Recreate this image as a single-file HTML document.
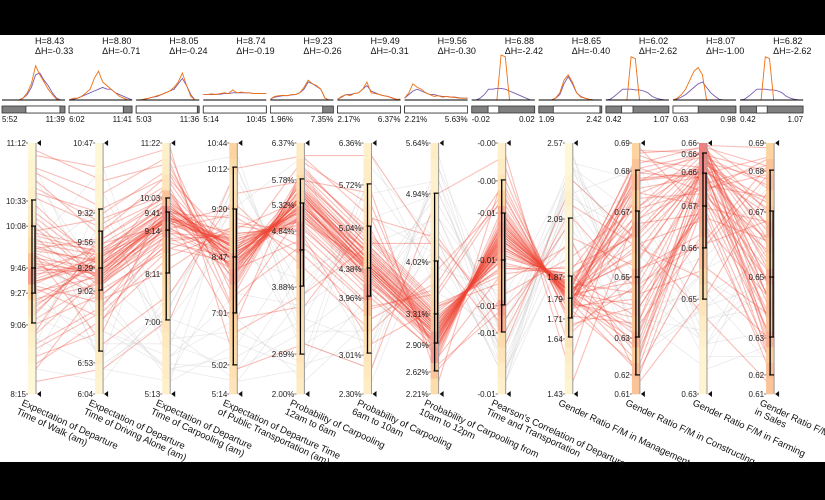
<!DOCTYPE html>
<html><head><meta charset="utf-8"><style>
html,body{margin:0;padding:0;background:#fff;}
svg{display:block;font-family:"Liberation Sans",sans-serif;}
</style></head><body>
<svg id="chart" width="825" height="500" viewBox="0 0 825 500" xmlns="http://www.w3.org/2000/svg">
<rect x="0" y="0" width="825" height="35" fill="#000"/>
<rect x="0" y="462" width="825" height="38" fill="#000"/>
<g id="gray-lines"></g>
<g id="red-lines"></g>
<g id="axes"></g>
<g id="hists"></g>
</svg>
<script>
const axisTitles=[["Expectation of Departure","Time of Walk (am)"],["Expectation of Departure","Time of Driving Alone (am)"],["Expectation of Departure","Time of Carpooling (am)"],["Expectation of Departure Time","of Public Transportation (am)"],["Probability of Carpooling","12am to 6am"],["Probability of Carpooling","6am to 10am"],["Probability of Carpooling from","10am to 12pm"],["Pearson's Correlation of Departure","Time and Transportation"],["Gender Ratio F/M in Management"],["Gender Ratio F/M in Constructing"],["Gender Ratio F/M in Farming"],["Gender Ratio F/M","in Sales"]];
const hLabels=["H=8.43","H=8.80","H=8.05","H=8.74","H=9.23","H=9.49","H=9.56","H=6.88","H=8.65","H=6.02","H=8.07","H=6.82"];
const dhLabels=["ΔH=-0.33","ΔH=-0.71","ΔH=-0.24","ΔH=-0.19","ΔH=-0.26","ΔH=-0.31","ΔH=-0.30","ΔH=-2.42","ΔH=-0.40","ΔH=-2.62","ΔH=-1.00","ΔH=-2.62"];
const rangeMin=["5:52","6:02","5:03","5:14","1.96%","2.17%","2.21%","-0.02","1.09","0.42","0.63","0.42"];
const rangeMax=["11:39","11:41","11:36","10:45","7.35%","6.37%","5.63%","0.02","2.42","1.07","0.98","1.07"];
const brushLo=[0.38,0,0,0,0,0,0,0.26,0.23,0.25,0,0.26];
const brushHi=[0.92,0.86,0.97,1,0.83,1,1,0.43,0.97,0.43,0.4,0.43];
const tickLabels=[["8:15","9:06","9:27","9:46","10:08","10:33","11:12"],["6:04","6:53","9:02","9:29","9:56","9:32","10:47"],["5:13","7:00","8:11","9:14","9:41","10:03","11:22"],["5:14","5:02","7:01","8:47","9:20","10:12","10:44"],["2.00%","2.69%","3.88%","4.84%","5.32%","5.78%","6.37%"],["2.30%","3.01%","3.96%","4.38%","5.04%","5.72%","6.36%"],["2.21%","2.62%","2.90%","3.31%","4.02%","4.94%","5.64%"],["-0.01","-0.01","-0.01","-0.01","-0.01","-0.00","-0.00"],["1.43","1.64","1.71","1.79","1.87","2.09","2.57"],["0.61","0.62","0.63","0.65","0.67","0.68","0.69"],["0.63","0.65","0.66","0.67","0.66","0.66","0.66"],["0.61","0.62","0.63","0.65","0.67","0.68","0.69"]];
const tickValues=[[0,.275,.402,.502,.669,.769,1],[0,.124,.41,.502,.606,.721,1],[0,.287,.478,.649,.721,.781,1],[0,.116,.323,.546,.737,.896,1],[0,.159,.426,.649,.753,.853,1],[0,.155,.382,.498,.661,.833,1],[0,.088,.195,.319,.526,.797,1],[0,.243,.351,.534,.721,.849,1],[0,.219,.299,.378,.466,.697,1],[0,.076,.223,.466,.725,.888,1],[0,.378,.582,.749,.884,.956,1],[0,.076,.223,.466,.725,.888,1]];
const boxWLo=[.283,.171,.295,.116,.159,.163,.092,.247,.227,.076,.378,.076];
const boxQ1=[.402,.414,.482,.323,.43,.39,.203,.355,.303,.227,.582,.227];
const boxMed=[.502,.502,.653,.546,.574,.502,.319,.534,.382,.466,.749,.466];
const boxQ3=[.669,.649,.725,.737,.761,.669,.53,.721,.47,.729,.88,.729];
const boxWHi=[.773,.737,.781,.904,.857,.837,.80,.853,.701,.892,.96,.892];
const density=[
[.05,.05,.1,.15,.2,.3,.5,.8,.6,.4,.3,.2,.15,.1,.1,.05],
[.1,.15,.2,.2,.25,.35,.6,.75,.5,.3,.2,.15,.1,.1,.05,.05],
[.15,.2,.2,.25,.3,.35,.4,.45,.5,.6,.75,.9,.6,.3,.2,.15],
[.3,.35,.4,.45,.5,.55,.6,.75,.65,.5,.45,.4,.35,.3,.4,.5],
[.2,.25,.3,.3,.35,.4,.45,.5,.6,.8,.85,.7,.5,.4,.3,.2],
[.2,.25,.3,.35,.45,.6,.8,.7,.5,.4,.35,.3,.25,.2,.2,.15],
[.4,.6,.85,.8,.6,.5,.4,.35,.3,.25,.2,.2,.2,.15,.15,.2],
[.15,.2,.3,.4,.7,.8,.6,.6,.7,.75,.8,.7,.5,.3,.2,.15],
[.1,.15,.2,.3,.4,.35,.2,.15,.1,.1,.1,.1,.15,.1,.05,.05],
[.6,.65,.55,.7,.6,.65,.6,.7,.55,.6,.7,.6,.55,.65,.6,.5],
[.1,.1,.1,.15,.2,.3,.4,.5,.6,.6,.7,.75,.8,.85,.95,1],
[.6,.65,.55,.7,.6,.65,.6,.7,.55,.6,.7,.6,.55,.65,.6,.5]];
const histOrange=[
[0,0,0,0,0,.05,.2,.45,.95,.7,.5,.3,.15,.02,0,0],
[0,.05,.05,.1,.2,.3,.6,.8,.5,.4,.3,.2,.1,.05,0,0],
[0,0,.03,.05,.08,.12,.15,.2,.25,.35,.5,.75,.4,.1,0,0],
[.15,.15,.17,.15,.18,.2,.18,.28,.2,.22,.2,.2,.18,.18,.18,.18],
[.02,.1,.12,.13,.12,.15,.15,.2,.35,.55,.45,.4,.3,.05,0,0],
[.02,.1,.15,.12,.18,.2,.3,.5,.2,.18,.15,.12,.1,.05,.02,.02],
[.05,.2,.45,.35,.3,.2,.15,.1,.12,.08,.1,.08,.07,.05,.05,.05],
[0,0,0,0,0,0,0,1.25,1.2,0,0,0,0,0,0,0],
[0,0,0,0,.05,.2,.55,.7,.5,.2,.08,.05,.02,0,0,0],
[0,0,0,0,0,0,1.2,1.15,0,0,0,0,0,0,0,0],
[0,.05,.15,.3,.55,.8,.9,.7,0,0,0,0,0,0,0,0],
[0,0,0,0,0,0,1.2,1.15,0,0,0,0,0,0,0,0]];
const histPurple=[
[0,0,0,0,0,.05,.15,.35,.7,.75,.55,.4,.2,.05,0,0],
[0,.02,.05,.1,.15,.2,.25,.3,.35,.3,.3,.2,.15,.1,.05,0],
[0,0,.02,.05,.08,.1,.15,.2,.25,.3,.45,.6,.4,.15,0,0],
[.15,.15,.15,.16,.16,.18,.18,.2,.2,.2,.2,.2,.18,.18,.18,.18],
[.02,.08,.1,.12,.12,.14,.15,.2,.3,.5,.45,.38,.3,.05,0,0],
[.02,.08,.15,.15,.18,.2,.3,.4,.25,.2,.15,.12,.1,.06,.02,.02],
[.05,.15,.25,.3,.25,.2,.15,.15,.12,.1,.1,.08,.08,.06,.05,.05],
[0,0,.05,.15,.3,.3,.32,.32,.3,.25,.2,.15,.1,.05,0,0],
[0,0,0,0,.05,.15,.45,.65,.45,.2,.1,.05,.02,0,0,0],
[0,.02,.1,.2,.3,.3,.3,.28,.28,.25,.2,.1,.05,.02,0,0],
[0,.03,.08,.15,.25,.35,.45,.5,.35,.2,.1,.02,0,0,0,0],
[0,.02,.1,.2,.3,.3,.3,.28,.28,.25,.2,.1,.05,.02,0,0]];
const redRows=[
[.52,.48,.72,.55,.78,.50,.26,.62,.40,.85,.90,.30],[.45,.52,.70,.58,.74,.48,.22,.66,.38,.20,.88,.75],[.60,.55,.75,.52,.80,.52,.28,.58,.42,.70,.95,.15],[.38,.44,.68,.60,.70,.46,.20,.70,.36,.90,.80,.60],[.70,.50,.66,.50,.82,.55,.30,.55,.44,.40,.92,.85],[.50,.58,.74,.56,.76,.44,.24,.64,.39,.60,.70,.05],[.30,.46,.64,.62,.68,.52,.18,.72,.35,.95,.85,.40],[.85,.62,.78,.48,.86,.58,.32,.52,.46,.30,.98,.90],[.55,.40,.60,.54,.72,.50,.27,.60,.41,.80,.75,.20],[.20,.35,.70,.64,.66,.40,.15,.75,.33,.10,.60,.70],
[.48,.50,.72,.45,.90,.62,.35,.50,.48,.65,.90,.50],[.65,.70,.80,.40,.60,.35,.40,.80,.30,.85,.88,.95],[.42,.30,.55,.66,.78,.48,.22,.68,.37,.25,.82,.35],[.58,.52,.85,.58,.94,.70,.10,.40,.55,.75,.93,.65],[.10,.45,.72,.70,.55,.30,.45,.85,.25,.50,.65,.10],[.90,.80,.95,.35,.74,.50,.25,.62,.40,.92,.99,.80],[.50,.48,.65,.55,.80,.52,.28,.64,.40,.35,.78,.55],[.35,.55,.70,.60,.72,.46,.21,.60,.38,.88,.86,.25],[.62,.42,.58,.52,.76,.56,.30,.58,.43,.15,.94,.45],[.47,.60,.76,.57,.70,.49,.24,.66,.39,.70,.84,.92],
[.75,.50,.70,.25,.40,.60,.60,.30,.70,.40,.50,.30],[.55,.20,.40,.80,.85,.80,.05,.90,.15,.98,.70,.60],[.40,.52,.73,.55,.78,.51,.27,.63,.41,.55,.91,.72],[.53,.47,.69,.59,.75,.47,.23,.67,.37,.82,.87,.18],[.25,.65,.88,.50,.62,.20,.35,.45,.60,.05,.40,.85],[.57,.53,.71,.53,.77,.53,.26,.61,.42,.62,.89,.48],[.44,.56,.67,.61,.73,.45,.19,.69,.36,.30,.83,.78],[.68,.45,.62,.49,.81,.57,.31,.56,.45,.90,.96,.38],[.05,.10,.30,.90,.95,.95,.55,.20,.85,.60,.30,.02],[.95,.90,.98,.10,.20,.10,.80,.95,.05,.75,.99,.98],
[.49,.51,.70,.56,.79,.50,.25,.62,.40,.45,.92,.62],[.36,.49,.74,.57,.71,.48,.23,.65,.38,.78,.80,.28],[.61,.57,.77,.51,.83,.54,.29,.59,.43,.22,.95,.88],[.52,.38,.50,.68,.65,.42,.20,.70,.34,.68,.72,.12],[.80,.72,.90,.44,.88,.65,.15,.50,.50,.85,.97,.70],[.32,.60,.68,.75,.50,.25,.50,.78,.28,.35,.76,.42],[.56,.46,.71,.54,.77,.51,.26,.63,.41,.93,.90,.52],[.45,.54,.73,.58,.74,.49,.24,.64,.39,.12,.86,.58],[.59,.49,.66,.53,.79,.53,.28,.60,.42,.58,.93,.33],[.15,.25,.82,.30,.92,.75,.12,.35,.62,.50,.60,.90],
[.78,.66,.79,.47,.84,.60,.33,.54,.47,.72,.97,.22],[.28,.40,.62,.63,.69,.43,.17,.73,.34,.42,.74,.68],[.64,.58,.76,.50,.84,.56,.30,.57,.44,.96,.98,.10],[.41,.47,.69,.59,.73,.47,.22,.67,.37,.18,.81,.95],[.88,.74,.87,.42,.89,.63,.36,.48,.51,.64,.93,.56],[.18,.33,.58,.67,.63,.38,.16,.77,.31,.28,.66,.36],[.54,.50,.72,.55,.78,.50,.26,.61,.40,.80,.91,.76],[.46,.55,.74,.57,.75,.49,.24,.65,.39,.48,.87,.14],[.66,.44,.64,.51,.80,.55,.29,.57,.44,.88,.95,.64],[.33,.57,.70,.61,.71,.45,.21,.68,.36,.08,.79,.46],
[.58,.62,.80,.53,.85,.58,.31,.55,.46,.66,.94,.82],[.43,.36,.61,.64,.67,.42,.19,.71,.35,.38,.77,.26],[.72,.52,.70,.49,.81,.54,.28,.58,.43,.97,.96,.58],[.51,.45,.68,.56,.76,.49,.25,.63,.40,.26,.85,.08],[.24,.48,.73,.62,.70,.44,.20,.70,.35,.74,.82,.88],[.63,.56,.75,.52,.79,.52,.27,.60,.42,.54,.92,.40],[.37,.53,.71,.58,.74,.48,.23,.66,.38,.86,.88,.70],[.82,.68,.84,.46,.87,.61,.34,.51,.48,.16,.98,.32],[.12,.30,.66,.72,.58,.34,.42,.82,.27,.44,.62,.94],[.97,.85,.92,.30,.35,.70,.62,.25,.75,.58,.45,.20]];
const grayRows=[
[.3,.2,.2,.1,.5,.6,.7,.1,.9,.5,.2,.5],[.7,.1,.05,.9,.3,.2,.9,.3,.7,.1,.6,.8],[.2,.8,.3,.2,.1,.9,.6,.05,.95,.3,.1,.2],[.9,.3,.1,.05,.4,.7,.8,.2,.8,.9,.4,.1],[.4,.15,.9,.95,.2,.1,.95,.1,.6,.2,.5,.9],[.6,.9,.15,.3,.05,.3,.5,.4,.9,.7,.3,.4],[.1,.05,.4,.75,.95,.05,.7,.15,.75,.4,.2,.7],[.8,.25,.1,.15,.3,.8,.85,.05,.85,.6,.45,.3],[.25,.7,.2,.8,.15,.95,.4,.25,.95,.15,.35,.6],[.5,.4,.05,.2,.6,.15,.9,.1,.7,.8,.15,.15],[.15,.6,.25,.05,.1,.4,.75,.3,.8,.45,.55,.85],[.75,.15,.35,.9,.25,.25,.6,.05,.65,.3,.25,.5],
[.35,.25,.15,.4,.35,.55,.65,.12,.88,.55,.3,.35],[.65,.12,.3,.65,.2,.35,.85,.2,.72,.25,.5,.65],[.45,.35,.08,.55,.45,.7,.55,.08,.92,.85,.2,.25],[.85,.45,.22,.25,.12,.2,.7,.35,.82,.35,.4,.55],[.22,.1,.35,.85,.4,.85,.45,.18,.78,.62,.12,.75],[.55,.75,.12,.1,.25,.45,.8,.22,.9,.18,.35,.45]];

const SVGNS="http://www.w3.org/2000/svg";
const N=12, TOP=143, BOT=394;
function axisX(i){return 36+67.1*i;}
function axisY(v){return BOT-(BOT-TOP)*v;}
function mk(tag,attrs,parent){const e=document.createElementNS(SVGNS,tag);for(const k in attrs)e.setAttribute(k,attrs[k]);parent.appendChild(e);return e;}
function lerp(a,b,t){return Math.round(a+(b-a)*t);}
function dcolor(v){const c0=[255,252,222],c1=[253,212,158],c2=[240,128,128];let a,b,t;if(v<0.5){a=c0;b=c1;t=v/0.5;}else{a=c1;b=c2;t=(v-0.5)/0.5;}return `rgb(${lerp(a[0],b[0],t)},${lerp(a[1],b[1],t)},${lerp(a[2],b[2],t)})`;}

const gG=document.getElementById('gray-lines');
grayRows.forEach(r=>{const p=mk('polyline',{points:r.map((v,i)=>axisX(i)+','+axisY(v)).join(' '),fill:'none',stroke:'#c4c4c4','stroke-width':0.8,'stroke-opacity':0.35},gG);

});
const rG=document.getElementById('red-lines');
redRows.forEach(r=>{const p=mk('polyline',{points:r.map((v,i)=>axisX(i)+','+axisY(v)).join(' '),fill:'none',stroke:'#ee4433','stroke-width':1.1,'stroke-opacity':0.35},rG);

});

const aG=document.getElementById('axes');
for(let i=0;i<N;i++){
  const x=axisX(i);
  const g=mk('g',{},aG);
  
  
  const bins=density[i], bh=(BOT-TOP)/bins.length;
  bins.forEach((v,k)=>{const r=mk('rect',{x:x-8,y:BOT-(k+1)*bh,width:8,height:bh+0.3,fill:dcolor(v)},g);
    
    });
  mk('line',{x1:x,y1:TOP,x2:x,y2:BOT,stroke:'#999','stroke-width':1},g);
  tickLabels[i].forEach((lab,k)=>{const y=axisY(tickValues[i][k]);
    mk('line',{x1:x-10,y1:y,x2:x-8,y2:y,stroke:'#555','stroke-width':0.8},g);
    const t=mk('text',{x:x-10,y:y+3,'font-size':8,'text-anchor':'end',fill:'#222'},g);t.textContent=lab;
    
    });
  [TOP,BOT].forEach(y=>{const a=mk('path',{d:`M${x+1},${y} L${x+5},${y-3} L${x+5},${y+3} Z`,fill:'#111'},g);
    
    });
  const bx=x-4;
  mk('line',{x1:bx,y1:axisY(boxWHi[i]),x2:bx,y2:axisY(boxWLo[i]),stroke:'#000','stroke-width':1.3},g);
  mk('line',{x1:x-1,y1:axisY(boxQ3[i]),x2:x-1,y2:axisY(boxQ1[i]),stroke:'#000','stroke-width':1.3},g);
  [boxWHi[i],boxQ3[i],boxMed[i],boxQ1[i],boxWLo[i]].forEach(v=>{mk('line',{x1:bx-1,y1:axisY(v),x2:x,y2:axisY(v),stroke:'#000','stroke-width':1.2},g);});
  const tt=mk('text',{transform:`translate(${x-15},405) rotate(25)`,'font-size':9.5,fill:'#111'},g);
  
  
  axisTitles[i].forEach((s,k)=>{const sp=mk('tspan',{x:k*-1,dy:k?10:0},tt);sp.textContent=s;});
}

const hG=document.getElementById('hists');
for(let i=0;i<N;i++){
  const left=2+67.1*i, w=63, base=100;
  const g=mk('g',{},hG);
  
  
  const h1=mk('text',{x:axisX(i)-1,y:44,'font-size':9,fill:'#111'},g);h1.textContent=hLabels[i];
  
  
  const h2=mk('text',{x:axisX(i)-1,y:54,'font-size':9,fill:'#111'},g);h2.textContent=dhLabels[i];
  
  
  const n=histOrange[i].length;
  const px=k=>left+w*k/(n-1);
  mk('polyline',{points:histPurple[i].map((v,k)=>px(k)+','+(base-36*v)).join(' '),fill:'none',stroke:'#7a5bb0','stroke-width':0.9},g);
  mk('polyline',{points:histOrange[i].map((v,k)=>px(k)+','+(base-36*v)).join(' '),fill:'none',stroke:'#f07010','stroke-width':0.9},g);
  mk('line',{x1:left,y1:base,x2:left+w,y2:base,stroke:'#000','stroke-width':1},g);
  const rb=mk('rect',{x:left,y:106,width:w,height:7,fill:'#808080',stroke:'#333','stroke-width':0.8},g);
  
  
  mk('rect',{x:left+w*brushLo[i],y:106,width:w*(brushHi[i]-brushLo[i]),height:7,fill:'#fff',stroke:'#333','stroke-width':0.8},g);
  const l1=mk('text',{x:left,y:122,'font-size':8,fill:'#111'},g);l1.textContent=rangeMin[i];
  
  
  const l2=mk('text',{x:left+w,y:122,'font-size':8,'text-anchor':'end',fill:'#111'},g);l2.textContent=rangeMax[i];
  
  
}
</script>
</body></html>
